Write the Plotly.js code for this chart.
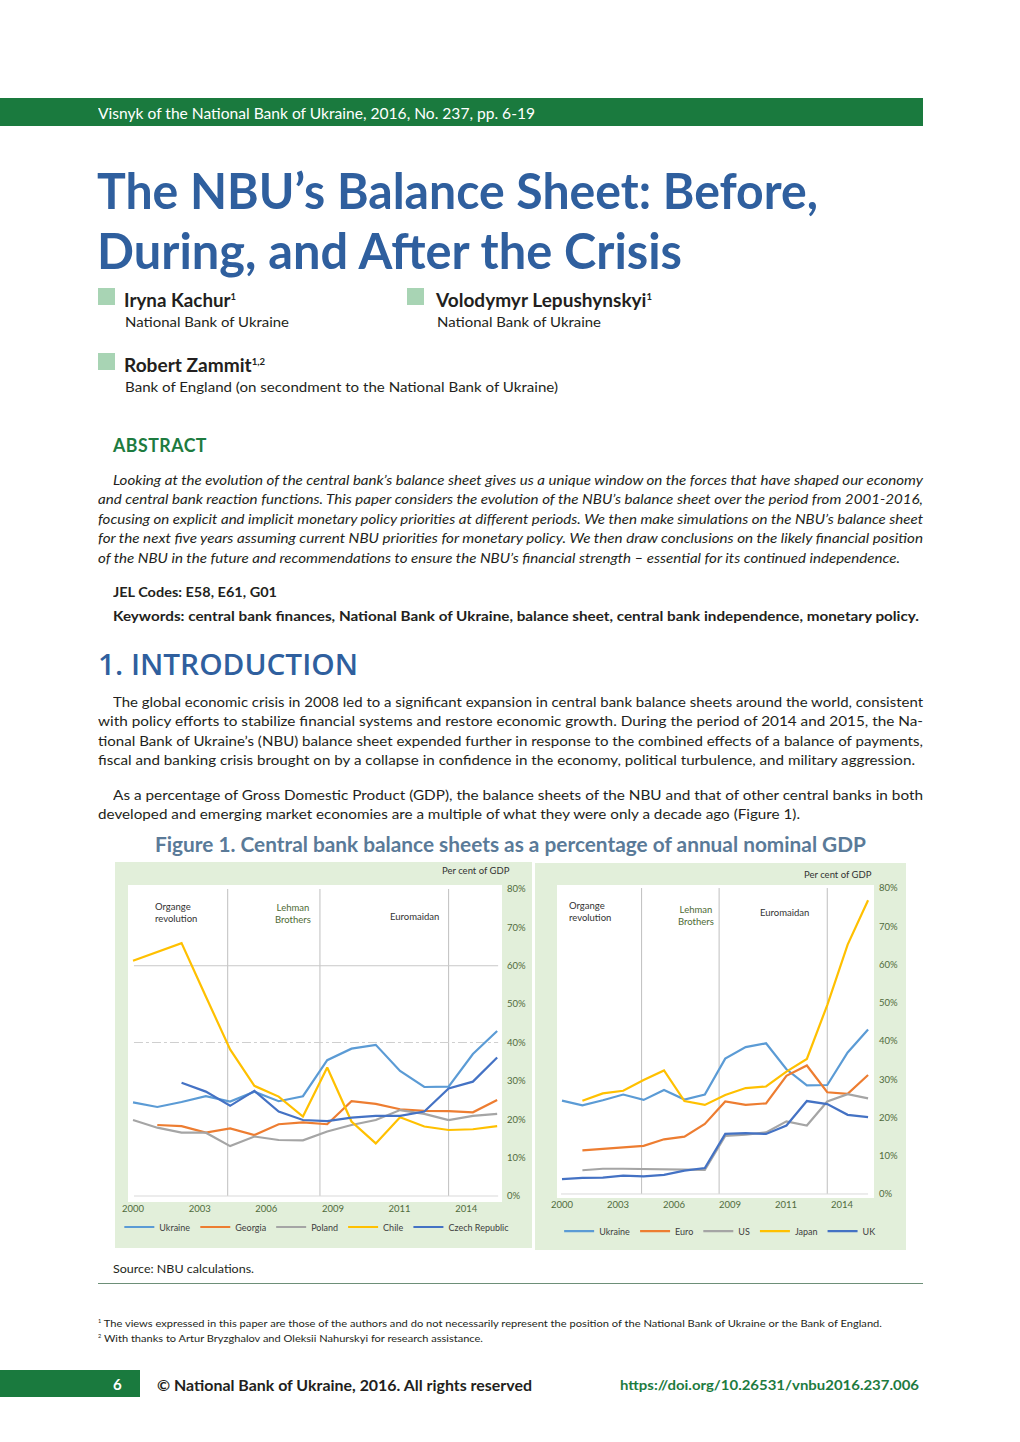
<!DOCTYPE html>
<html>
<head>
<meta charset="utf-8">
<script src="https://cdn.plot.ly/plotly-3.0.1.min.js"></script>
<style>
  html, body { margin:0; padding:0; background:#fff; }
  body { width:1020px; height:1442px; position:relative; overflow:hidden; font-family:Lato, "Open Sans", sans-serif; color:#231f20; }
  .ln { position:absolute; white-space:nowrap; line-height:1; transform-origin:0 50%; }
  .ln sup { font-size:0.5em; line-height:0; vertical-align:0.8em; }
  .hdr { font-size:15px; color:#fff; }
  .ttl { font-size:50px; font-weight:700; color:#2f5f9e; }
  .auth { font-size:18px; font-weight:700; }
  .aff { font-size:14px; }
  .abs { font-size:18px; font-weight:700; color:#1d7b3f; letter-spacing:0.5px; }
  .it { font-size:14px; font-style:italic; }
  .bd { font-size:14px; font-weight:700; }
  .h1 { font-size:28px; font-weight:600; color:#2f5f9e; font-family:"Open Sans", Lato, sans-serif; }
  .tx { font-size:14px; }
  .fig { font-size:20px; font-weight:700; color:#5a7a98; }
  .src { font-size:12px; }
  .fn { font-size:10px; }
  .foot { font-size:15px; font-weight:700; }
  .pg { font-size:15px; font-weight:700; color:#fff; }
  .doi { font-size:14px; font-weight:700; color:#1d7b3f; }
  .box { position:absolute; }
  #c1, #c2 { position:absolute; }
</style>
</head>
<body>
<div class="box" style="left:0;top:98px;width:923px;height:28px;background:#1a7a3e;"></div>
<div class="box" style="left:98px;top:288px;width:17px;height:17px;background:#a8d4b4;"></div>
<div class="box" style="left:407px;top:288px;width:17px;height:17px;background:#a8d4b4;"></div>
<div class="box" style="left:98px;top:353px;width:17px;height:17px;background:#a8d4b4;"></div>
<div class="box" style="left:98px;top:1283px;width:825px;height:1px;background:#6d8f78;"></div>
<div class="box" style="left:0;top:1370px;width:140px;height:27px;background:#1a7a3e;"></div>
<div id="c1" style="left:115px;top:862px;width:417px;height:386px;"></div>
<div id="c2" style="left:535px;top:863px;width:371px;height:387px;"></div>
<script>
// ---------------- DATA ----------------
const years = [2000, 2001, 2002, 2003, 2004, 2005, 2006, 2007, 2008, 2009, 2010, 2011, 2012, 2013, 2014, 2015];
const xTickLabels = ['2000', '2003', '2006', '2009', '2011', '2014'];
const yTickValues = [0, 10, 20, 30, 40, 50, 60, 70, 80];

// Left panel: emerging markets (% of GDP)
const ukraine = [24.4, 23.2, 24.5, 26.0, 24.6, 27.2, 24.7, 26.0, 35.4, 38.4, 39.4, 32.6, 28.4, 28.5, 37.0, 43.0];
const georgia = [null, 18.5, 18.2, 16.5, 17.6, 15.9, 18.7, 19.2, 18.7, 24.7, 24.0, 22.6, 22.2, 22.1, 21.8, 25.0];
const poland  = [19.8, 17.8, 16.5, 16.5, 13.0, 15.5, 14.6, 14.5, 16.8, 18.5, 19.8, 22.4, 21.4, 19.8, 20.9, 21.4];
const chile   = [61.3, 63.6, 65.9, 52.0, 38.2, 28.7, 25.9, 20.7, 33.5, 19.4, 13.7, 20.5, 18.1, 17.2, 17.4, 18.2];
const czech   = [null, null, 29.5, 27.2, 23.5, 27.4, 22.0, 19.8, 19.5, 20.4, 20.9, 20.9, 22.0, 28.0, 29.8, 36.1];

// Right panel: advanced economies (% of GDP)
const euro    = [null, 11.4, 11.8, 12.2, 12.6, 14.3, 15.0, 18.3, 24.2, 23.3, 23.7, 30.9, 33.6, 26.6, 26.2, 31.1];
const us      = [null, 6.2, 6.6, 6.6, 6.5, 6.4, 6.3, 6.3, 15.2, 15.5, 16.1, 19.0, 17.9, 24.2, 26.1, 25.0];
const japan   = [null, 24.4, 26.3, 27.0, 29.8, 32.3, 24.3, 23.3, 25.9, 27.7, 28.1, 32.0, 35.3, 49.4, 65.2, 76.8];
const uk      = [3.9, 4.2, 4.3, 4.8, 4.6, 5.0, 6.1, 6.8, 15.7, 15.9, 15.7, 17.9, 24.3, 23.5, 20.7, 20.1];

const leftNames  = ['Ukraine', 'Georgia', 'Poland', 'Chile', 'Czech Republic'];
const rightNames = ['Ukraine', 'Euro', 'US', 'Japan', 'UK'];
const eventNames = ['Organge<br>revolution', 'Lehman<br>Brothers', 'Euromaidan'];
const eventYears = [2003.9, 2007.7, 2013.0];
const unitLabel = 'Per cent of GDP';

// ---------------- STYLE ----------------
const colors = ['#5b9bd5', '#ed7d31', '#a5a5a5', '#ffc000', '#4472c4'];
const tickColor = '#506b3c';
const bg = '#e2efda';
const fontFam = 'Lato, "Open Sans", sans-serif';

function traces(series, names) {
  return series.map((s, i) => ({
    type: 'scatter', mode: 'lines', x: years, y: s, name: names[i],
    line: { color: colors[i], width: 2.2 }, connectgaps: false, hoverinfo: 'skip'
  }));
}

function makeLayout(o) {
  const shapes = eventYears.map(e => ({
    type: 'line', xref: 'x', yref: 'y', x0: e, x1: e, y0: 0, y1: 80,
    line: { color: '#bfbfbf', width: 1 }, layer: 'below'
  }));
  shapes.push({ type: 'line', xref: 'x', yref: 'y', x0: o.baseX0, x1: o.baseX1, y0: 0, y1: 0,
    line: { color: '#d9d9d9', width: 1 }, layer: 'below' });
  (o.extraShapes || []).forEach(s => shapes.push(s));
  const ann = [
    { text: eventNames[0], x: o.evX[0], y: o.evY[0], xanchor: 'left', align: 'left', color: '#333333' },
    { text: eventNames[1], x: o.evX[1], y: o.evY[1], xanchor: 'center', align: 'center', color: '#4f6b35' },
    { text: eventNames[2], x: o.evX[2], y: o.evY[2], xanchor: 'center', align: 'center', color: '#333333' }
  ].map(a => ({
    xref: 'x', yref: 'y', x: a.x, y: a.y, xanchor: a.xanchor, yanchor: 'middle', align: a.align,
    text: a.text, showarrow: false, font: { family: fontFam, size: 9.5, color: a.color }
  }));
  ann.push({ xref: 'paper', yref: 'paper', x: o.unitX, y: o.unitY, xanchor: 'right', yanchor: 'middle',
    text: unitLabel, showarrow: false, font: { family: fontFam, size: 9.5, color: '#333333' } });
  return {
    width: o.w, height: o.h, margin: { l: 0, r: 0, t: 0, b: 0, pad: 0, autoexpand: false },
    paper_bgcolor: bg, plot_bgcolor: '#ffffff',
    font: { family: fontFam },
    showlegend: true,
    xaxis: {
      domain: o.xd, range: o.xr, tickmode: 'array',
      tickvals: xTickLabels.map((_, i) => 2000 + i * 2.745), ticktext: xTickLabels,
      showgrid: false, zeroline: false, showline: false, ticks: '', automargin: false,
      tickfont: { family: fontFam, size: 9.5, color: tickColor }, fixedrange: true
    },
    yaxis: {
      domain: o.yd, side: 'right', range: o.yr, tickmode: 'array', tickvals: yTickValues,
      ticktext: yTickValues.map(v => v + '%'), ticklabelstandoff: 4,
      showgrid: false, zeroline: false, showline: false, ticks: '', automargin: false,
      tickfont: { family: fontFam, size: 9.5, color: tickColor }, fixedrange: true
    },
    legend: {
      orientation: 'h', x: o.legX, xanchor: 'center', y: o.legY, yanchor: 'middle',
      font: { family: fontFam, size: 9, color: '#404040' }, bgcolor: 'rgba(0,0,0,0)',
      itemwidth: 30, tracegroupgap: 0
    },
    shapes: shapes, annotations: ann
  };
}

const cfg = { displayModeBar: false, staticPlot: true };

Plotly.newPlot('c1', traces([ukraine, georgia, poland, chile, czech], leftNames), makeLayout({
  w: 417, h: 386,
  xd: [0.0312, 0.9281], yd: [0.1192, 0.9404],
  xr: [1999.794, 2015.2], yr: [-1.56, 81.04],
  baseX0: 2000.04, baseX1: 2015.04,
  extraShapes: [
    { type: 'line', xref: 'x', yref: 'y', x0: 2000.04, x1: 2015.04, y0: 60, y1: 60, line: { color: '#c8c8c8', width: 1 }, layer: 'below' },
    { type: 'line', xref: 'x', yref: 'y', x0: 2000.04, x1: 2015.04, y0: 40, y1: 40, line: { color: '#cfcfcf', width: 1, dash: 'dashdot' }, layer: 'below' }
  ],
  evX: [2000.82, 2006.59, 2011.58], evY: [74.0, 73.7, 72.9],
  unitX: 0.952, unitY: 0.977, legX: 0.484, legY: 0.0544
}), cfg);

Plotly.newPlot('c2', traces([ukraine, euro, us, japan, uk], rightNames), makeLayout({
  w: 371, h: 387,
  xd: [0.0593, 0.9137], yd: [0.1344, 0.9432],
  xr: [1999.755, 2015.29], yr: [-1.05, 80.8],
  baseX0: 1999.95, baseX1: 2015.0,
  extraShapes: [],
  evX: [2000.25, 2006.57, 2010.88], evY: [73.9, 72.8, 73.5],
  unitX: 0.914, unitY: 0.969, legX: 0.499, legY: 0.049
}), cfg);

// ---------------- PAGE TEXT ----------------
const lines = [
  ['hdr', 'Visnyk of the National Bank of Ukraine, 2016, No. 237, pp. 6-19', 98, 113, 437],
  ['ttl', 'The NBU’s Balance Sheet: Before,', 97, 190, 721],
  ['ttl', 'During, and After the Crisis', 97, 250, 585],
  ['auth', 'Iryna Kachur<sup>1</sup>', 124, 300, 112],
  ['aff', 'National Bank of Ukraine', 125, 322, 164],
  ['auth', 'Volodymyr Lepushynskyi<sup>1</sup>', 436, 300, 216],
  ['aff', 'National Bank of Ukraine', 437, 322, 164],
  ['auth', 'Robert Zammit<sup>1,2</sup>', 124, 365, 141],
  ['aff', 'Bank of England (on secondment to the National Bank of Ukraine)', 125, 387, 433],
  ['abs', 'ABSTRACT', 113, 445, 94],
  ['it', 'Looking at the evolution of the central bank’s balance sheet gives us a unique window on the forces that have shaped our economy', 113, 480, 810],
  ['it', 'and central bank reaction functions. This paper considers the evolution of the NBU’s balance sheet over the period from 2001-2016,', 98, 499, 825],
  ['it', 'focusing on explicit and implicit monetary policy priorities at different periods. We then make simulations on the NBU’s balance sheet', 98, 519, 825],
  ['it', 'for the next five years assuming current NBU priorities for monetary policy. We then draw conclusions on the likely financial position', 98, 538, 825],
  ['it', 'of the NBU in the future and recommendations to ensure the NBU’s financial strength – essential for its continued independence.', 98, 558, 802],
  ['bd', 'JEL Codes: E58, E61, G01', 113, 592, 164],
  ['bd', 'Keywords: central bank finances, National Bank of Ukraine, balance sheet, central bank independence, monetary policy.', 113, 616, 806],
  ['h1', '1. INTRODUCTION', 98, 664, 260],
  ['tx', 'The global economic crisis in 2008 led to a significant expansion in central bank balance sheets around the world, consistent', 113, 702, 810],
  ['tx', 'with policy efforts to stabilize financial systems and restore economic growth. During the period of 2014 and 2015, the Na-', 98, 721, 825],
  ['tx', 'tional Bank of Ukraine’s (NBU) balance sheet expended further in response to the combined effects of a balance of payments,', 98, 741, 825],
  ['tx', 'fiscal and banking crisis brought on by a collapse in confidence in the economy, political turbulence, and military aggression.', 98, 760, 817],
  ['tx', 'As a percentage of Gross Domestic Product (GDP), the balance sheets of the NBU and that of other central banks in both', 113, 795, 810],
  ['tx', 'developed and emerging market economies are a multiple of what they were only a decade ago (Figure 1).', 98, 814, 702],
  ['fig', 'Figure 1. Central bank balance sheets as a percentage of annual nominal GDP', 155, 844, 711],
  ['src', 'Source: NBU calculations.', 113, 1269, 141],
  ['fn', '<sup>1</sup> The views expressed in this paper are those of the authors and do not necessarily represent the position of the National Bank of Ukraine or the Bank of England.', 98, 1323, 784],
  ['fn', '<sup>2</sup> With thanks to Artur Bryzghalov and Oleksii Nahurskyi for research assistance.', 98, 1338, 385],
  ['pg', '6', 113, 1384, null],
  ['foot', '© National Bank of Ukraine, 2016. All rights reserved', 157, 1385, 375],
  ['doi', 'https://doi.org/10.26531/vnbu2016.237.006', 620, 1385, 299]
];
lines.forEach(L => {
  const [cls, txt, x, y, w] = L;
  const d = document.createElement('div');
  d.className = 'ln ' + cls;
  d.innerHTML = txt;
  d.style.left = x + 'px';
  d.style.top = '0px';
  document.body.appendChild(d);
  const h = d.getBoundingClientRect().height;
  d.style.top = (y - h / 2) + 'px';
  if (w) {
    const nw = d.getBoundingClientRect().width;
    d.style.transform = 'scaleX(' + (w / nw).toFixed(4) + ')';
  }
});
</script>
</body>
</html>
